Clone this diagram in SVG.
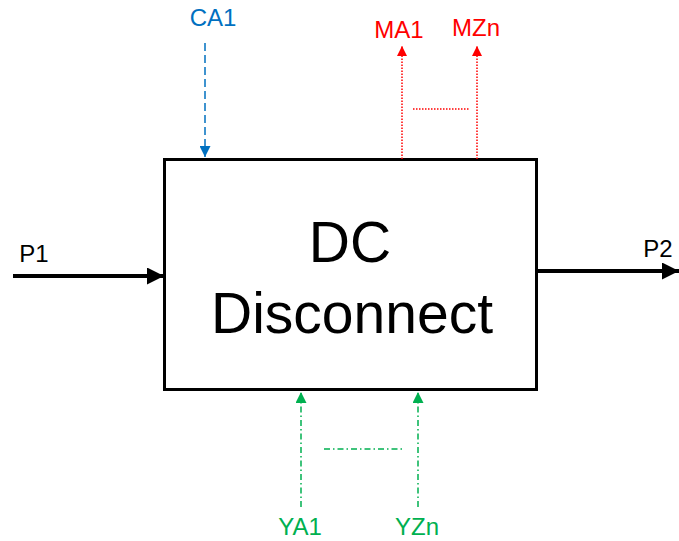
<svg xmlns="http://www.w3.org/2000/svg" width="679" height="541" viewBox="0 0 679 541">
<style>
text{font-family:"Liberation Sans","Open Sans",sans-serif}
.lbl{font-size:24px;text-anchor:middle}
.blue{fill:#0070C0}.red{fill:#FF0000}.green{fill:#00B050}
.big{font-size:57px;text-anchor:middle;fill:#000}
</style>
<defs>
<marker id="ab" viewBox="0 0 10 10" refX="10" refY="5" markerWidth="12" markerHeight="11" markerUnits="userSpaceOnUse" orient="auto"><path d="M0,0L10,5L0,10z" fill="#0070C0"/></marker>
<marker id="ar" viewBox="0 0 10 10" refX="10" refY="5" markerWidth="11" markerHeight="10" markerUnits="userSpaceOnUse" orient="auto"><path d="M0,0L10,5L0,10z" fill="#FF0000"/></marker>
<marker id="ag" viewBox="0 0 10 10" refX="10" refY="5" markerWidth="12" markerHeight="11" markerUnits="userSpaceOnUse" orient="auto"><path d="M0,0L10,5L0,10z" fill="#00B050"/></marker>
<marker id="ak" viewBox="0 0 10 10" refX="10" refY="5" markerWidth="17" markerHeight="17" markerUnits="userSpaceOnUse" orient="auto"><path d="M0,0L10,5L0,10z" fill="#000"/></marker>
</defs>
<g id="box">
<rect x="164.5" y="159.5" width="372" height="230" fill="#fff" stroke="#000" stroke-width="3"/>
<text class="big" x="350" y="262">DC</text>
<text class="big" x="352" y="333">Disconnect</text>
</g>
<g id="connectors" fill="none">
<line x1="13" y1="276" x2="164" y2="276" stroke="#000" stroke-width="4" marker-end="url(#ak)"/>
<line x1="537" y1="271" x2="679" y2="271" stroke="#000" stroke-width="4" marker-end="url(#ak)"/>
<line x1="205" y1="43" x2="205" y2="157" stroke="#0070C0" stroke-width="1.5" stroke-dasharray="8,4" marker-end="url(#ab)"/>
<line x1="402" y1="159" x2="402" y2="46" stroke="#FF0000" stroke-width="1.5" stroke-dasharray="1.5,1.5" marker-end="url(#ar)"/>
<line x1="477" y1="159" x2="477" y2="46" stroke="#FF0000" stroke-width="1.5" stroke-dasharray="1.5,1.5" marker-end="url(#ar)"/>
<line x1="413" y1="109" x2="469" y2="109" stroke="#FF0000" stroke-width="1.5" stroke-dasharray="1.5,1.5"/>
<line x1="301" y1="507" x2="301" y2="392" stroke="#00B050" stroke-width="1.5" stroke-dasharray="6,3,1.5,3" marker-end="url(#ag)"/>
<line x1="418" y1="507" x2="418" y2="392" stroke="#00B050" stroke-width="1.5" stroke-dasharray="6,3,1.5,3" marker-end="url(#ag)"/>
<line x1="324" y1="449" x2="402" y2="449" stroke="#00B050" stroke-width="1.5" stroke-dasharray="6,3,1.5,3"/>
</g>
<g id="labels">
<text x="34" y="262" style="font-size:24px;text-anchor:middle" fill="#000">P1</text>
<text x="658" y="257" style="font-size:24px;text-anchor:middle" fill="#000">P2</text>
<text class="lbl blue" x="213" y="26">CA1</text>
<text class="lbl red" x="399" y="38">MA1</text>
<text class="lbl red" x="476" y="36">MZn</text>
<text class="lbl green" x="300" y="535">YA1</text>
<text class="lbl green" x="417" y="535">YZn</text>
</g>
</svg>
